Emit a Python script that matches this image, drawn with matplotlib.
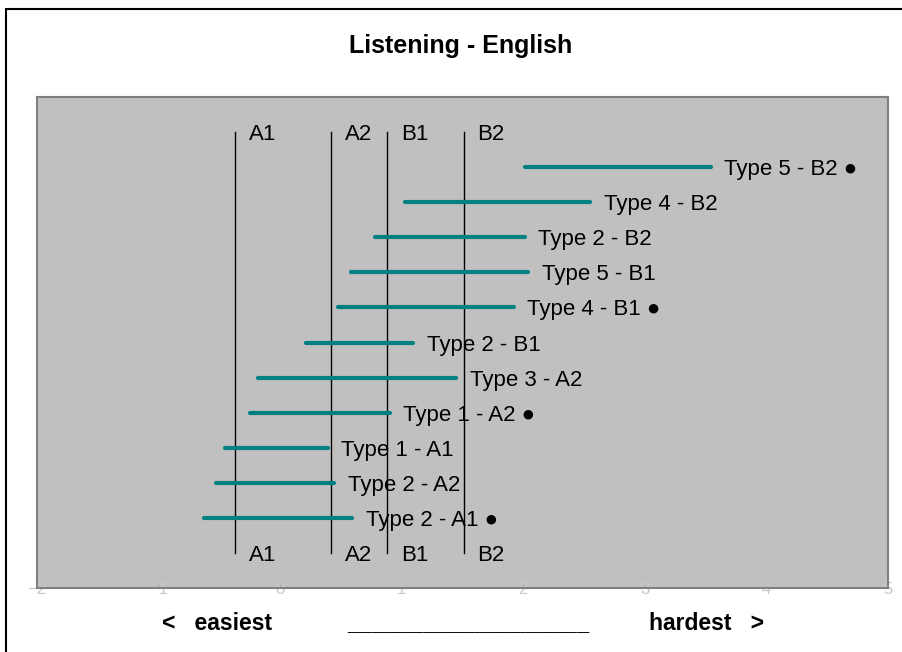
import numpy as np
import matplotlib.pyplot as plt
from matplotlib.patches import Rectangle

plt.rcParams['font.family'] = ['Liberation Sans', 'DejaVu Sans']

# Tarefas, de baixo para cima
labels = ['Type 2 - A1', 'Type 2 - A2', 'Type 1 - A1', 'Type 1 - A2', 'Type 3 - A2',
          'Type 2 - B1', 'Type 4 - B1', 'Type 5 - B1', 'Type 2 - B2', 'Type 4 - B2',
          'Type 5 - B2']
starts = [-0.63, -0.53, -0.45, -0.25, -0.18, 0.21, 0.48, 0.58, 0.78, 1.03, 2.01]
ends = [0.59, 0.44, 0.39, 0.90, 1.45, 1.09, 1.92, 2.04, 2.01, 2.55, 3.54]
marked = [True, False, False, True, False, False, True, False, False, False, True]

# Limites dos níveis
levels = ['A1', 'A2', 'B1', 'B2']
level_x = [-0.37, 0.42, 0.88, 1.51]

x_ticks = [-2, -1, 0, 1, 2, 3, 4, 5]

fig = plt.figure(figsize=(9.03, 6.52), dpi=100)
fig.patches.append(Rectangle((6 / 903, -0.1), 1.2, 1 - 9 / 652 + 0.1,
                             transform=fig.transFigure, fill=False,
                             edgecolor='black', linewidth=1.5))

ax = fig.add_axes([37 / 903, 1 - 588 / 652, 851 / 903, 491 / 652])
ax.set_facecolor('#c0c0c0')
for s in ax.spines.values():
    s.set_color('#808080')
    s.set_linewidth(1.5)

ypos = np.arange(1, len(labels) + 1)
for y, a, b, lab, m in zip(ypos, starts, ends, labels, marked):
    ax.plot([a, b], [y, y], color='#008080', linewidth=3, solid_capstyle='round', zorder=3)
    txt = lab + ' \u25cf' if m else lab
    ax.annotate(txt, (b, y), xytext=(10, 0), textcoords='offset points',
                va='center_baseline', ha='left', fontsize=16, zorder=4)

for lv, x in zip(levels, level_x):
    ax.plot([x, x], [0, 12], color='black', linewidth=1, zorder=2)
    ax.annotate(lv, (x, 12), xytext=(10, 0), textcoords='offset points',
                va='center_baseline', ha='left', fontsize=16)
    ax.annotate(lv, (x, 0), xytext=(10, 0), textcoords='offset points',
                va='center_baseline', ha='left', fontsize=16)

ax.set_xlim(-2, 5)
ax.set_ylim(-1, 13)
ax.set_xticks(x_ticks)
ax.set_yticks([])
ax.tick_params(axis='x', colors='#b0b0b0', labelcolor='#c8c8c8', length=3,
               direction='in', pad=-4, labelsize=12)

fig.text(461 / 903, 1 - 46 / 652, 'Listening - English', ha='center', va='center',
         fontsize=18, fontweight='bold')
fig.text(162 / 903, 1 - 624 / 652, '<   easiest', ha='left', va='center',
         fontsize=16.5, fontweight='bold')
fig.text(468 / 903, 1 - 624 / 652, '_' * 19, ha='center', va='center',
         fontsize=16.5, fontweight='bold')
fig.text(764 / 903, 1 - 624 / 652, 'hardest   >', ha='right', va='center',
         fontsize=16.5, fontweight='bold')

fig.savefig('out.png', dpi=100)
